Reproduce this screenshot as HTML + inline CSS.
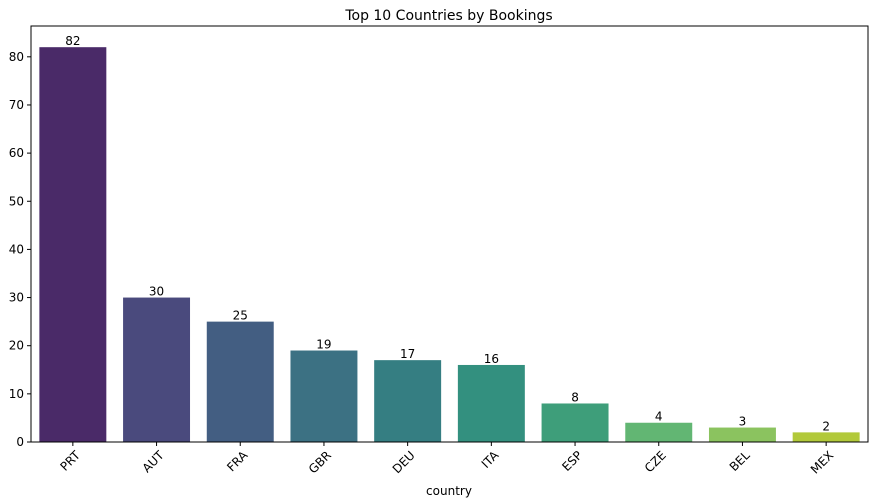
<!DOCTYPE html>
<html><head><meta charset="utf-8">
<style>
html,body{margin:0;padding:0;background:#fff;}
svg{display:block;font-family:"DejaVu Sans","Liberation Sans",sans-serif;}
</style></head>
<body>
<svg id="chart" width="874" height="503" viewBox="0 0 874 503" xmlns="http://www.w3.org/2000/svg">
<text x="449" y="20" text-anchor="middle" font-size="14" fill="#000">Top 10 Countries by Bookings</text>
<g id="bars"></g>
<g id="yticks"></g>
<g id="xticks"></g>
<rect x="31" y="26" width="837" height="416" fill="none" stroke="#000" stroke-width="1"/>
<text x="449" y="495" text-anchor="middle" font-size="12" fill="#000">country</text>
</svg>
<script>
const categories = ["PRT","AUT","FRA","GBR","DEU","ITA","ESP","CZE","BEL","MEX"];
const values = [82,30,25,19,17,16,8,4,3,2];
const yTickValues = [0,10,20,30,40,50,60,70,80];
const colors = ["#4a2a68","#4a4a7d","#435e82","#3c7183","#357e82","#33907f","#3e9e7a","#62b673","#8bc35f","#b2c93a"];

const NS="http://www.w3.org/2000/svg";
const plotLeft=31,plotRight=868,plotTop=26,plotBottom=442;
const yMax=86.4;
function yScale(v){return plotBottom-(v/yMax)*(plotBottom-plotTop);}
const band=(plotRight-plotLeft)/categories.length;
function xScale(i){return plotLeft+band*i;}
const bw=band*0.8;

const bars=document.getElementById('bars');
const yt=document.getElementById('yticks');
const xt=document.getElementById('xticks');

categories.forEach((c,i)=>{
  const r=document.createElementNS(NS,'rect');
  
  
  r.setAttribute('x',xScale(i)+band*0.1);
  r.setAttribute('y',yScale(values[i]));
  r.setAttribute('width',bw);
  r.setAttribute('height',plotBottom-yScale(values[i]));
  r.setAttribute('fill',colors[i]);
  bars.appendChild(r);

  const t=document.createElementNS(NS,'text');
  
  
  t.setAttribute('x',xScale(i)+band/2);
  t.setAttribute('y',yScale(values[i])-2);
  t.setAttribute('text-anchor','middle');
  t.setAttribute('font-size','12');
  t.textContent=values[i];
  bars.appendChild(t);

  const cx=xScale(i)+band/2;
  const tk=document.createElementNS(NS,'line');
  
  
  tk.setAttribute('x1',cx);tk.setAttribute('x2',cx);
  tk.setAttribute('y1',plotBottom);tk.setAttribute('y2',plotBottom+4);
  tk.setAttribute('stroke','#000');
  xt.appendChild(tk);

  const lb=document.createElementNS(NS,'text');
  
  
  lb.setAttribute('font-size','12');
  lb.setAttribute('text-anchor','end');
  lb.setAttribute('transform','translate('+(cx+8)+','+(plotBottom+14)+') rotate(-45)');
  lb.textContent=c;
  xt.appendChild(lb);
});

yTickValues.forEach(v=>{
  const tk=document.createElementNS(NS,'line');
  
  
  tk.setAttribute('x1',plotLeft-4);tk.setAttribute('x2',plotLeft);
  tk.setAttribute('y1',yScale(v));tk.setAttribute('y2',yScale(v));
  tk.setAttribute('stroke','#000');
  yt.appendChild(tk);
  const lb=document.createElementNS(NS,'text');
  
  
  lb.setAttribute('x',plotLeft-7);
  lb.setAttribute('y',yScale(v)+4);
  lb.setAttribute('text-anchor','end');
  lb.setAttribute('font-size','12');
  lb.textContent=v;
  yt.appendChild(lb);
});
</script>
</body></html>
